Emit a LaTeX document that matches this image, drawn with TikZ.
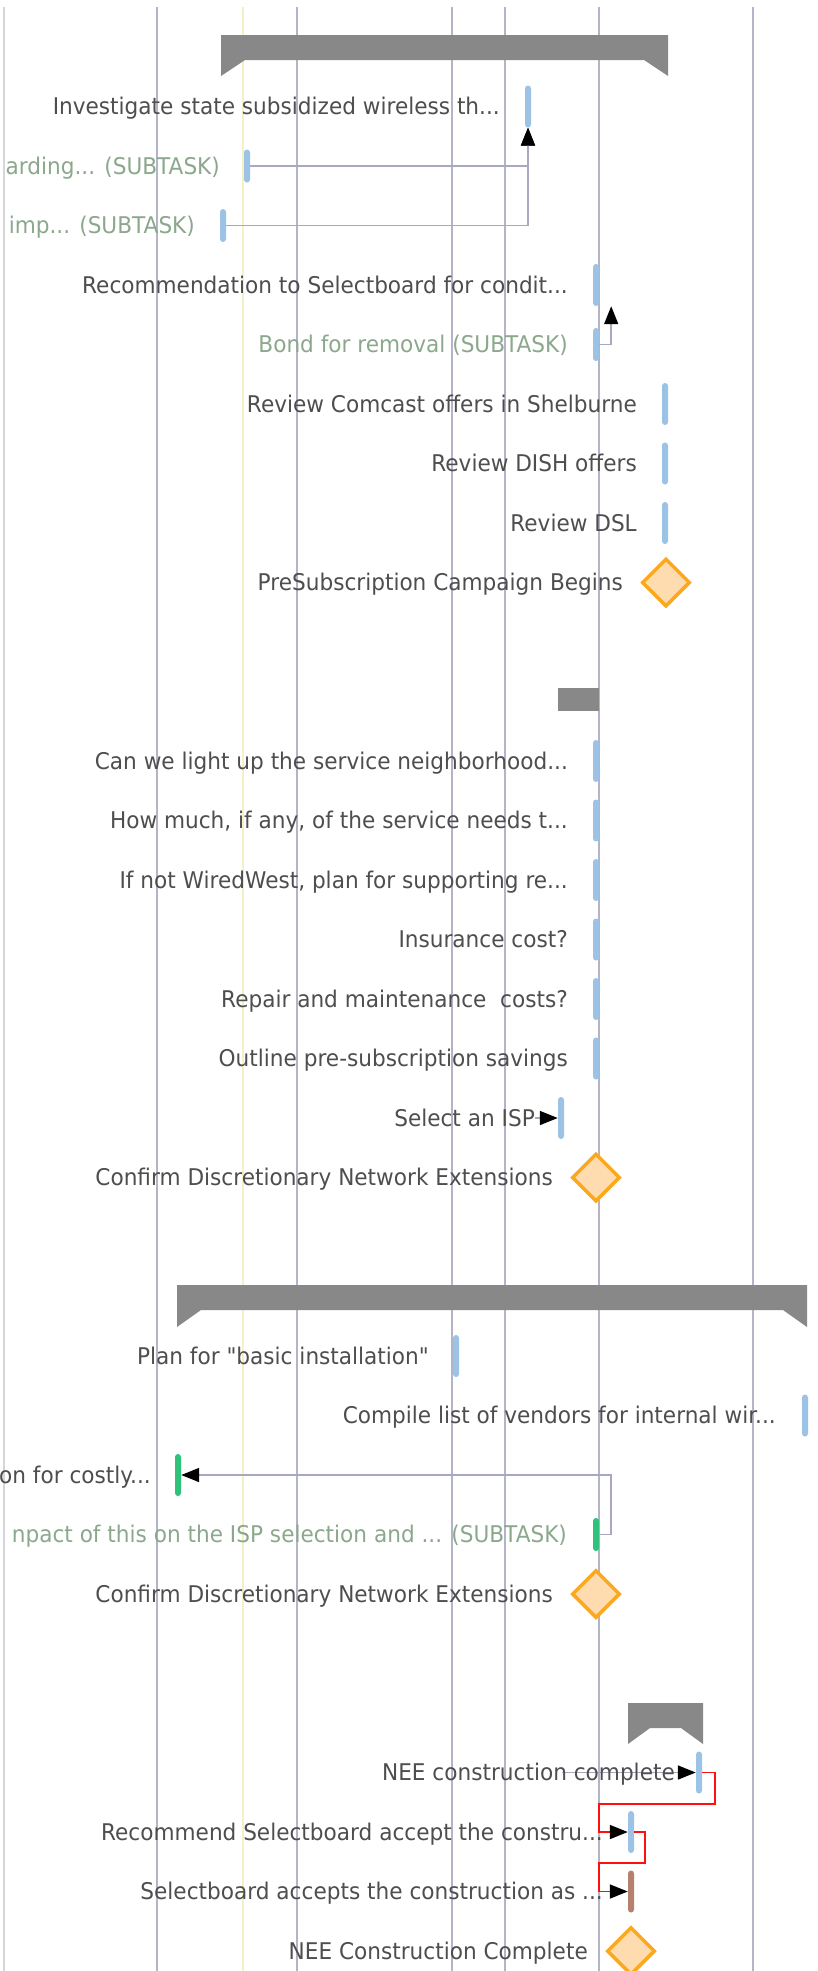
\documentclass[tikz,border=0pt]{standalone}
\usepackage{fontspec}
\setmainfont{DejaVu Sans}[FakeStretch=0.94]
\newfontfamily\qfont{DejaVu Sans}[FakeStretch=0.94]
\usetikzlibrary{shapes.geometric,arrows.meta}
\definecolor{gridc}{HTML}{B4B4C8}
\definecolor{edgec}{HTML}{D6D6D6}
\definecolor{todayc}{HTML}{F2F2C4}
\definecolor{txt}{HTML}{4E4E4E}
\definecolor{subtxt}{HTML}{8CA88C}
\definecolor{sumc}{HTML}{888888}
\definecolor{tblue}{HTML}{9CC2E5}
\definecolor{tgreen}{HTML}{2EC27A}
\definecolor{tbrown}{HTML}{B5806E}
\definecolor{morange}{HTML}{FBA81C}
\definecolor{mfill}{HTML}{FEDCB0}
\definecolor{connc}{HTML}{A8A8C0}
\definecolor{redc}{HTML}{FF1010}
\tikzset{
  gridl/.style={draw=gridc, line width=1.3pt},
  lbl/.style={font=\fontsize{23}{27}\selectfont, text=txt, inner sep=0pt, anchor=base east},
  sublbl/.style={lbl, text=subtxt},
  tbar/.style={rectangle, draw=none, minimum width=6pt, minimum height=42pt, inner sep=0pt, rounded corners=3pt},
  sbar/.style={tbar, minimum height=33pt},
  mstone/.style={diamond, draw=morange, fill=mfill, line width=3.5pt, minimum width=48pt, minimum height=48pt, inner sep=0pt},
  sumbar/.style={fill=sumc, draw=none},
  tipa/.style={-{Triangle[length=18pt,width=14pt,color=black,fill=black]}},
  dep/.style={draw=connc, line width=1.6pt},
  depa/.style={dep, tipa},
  rdep/.style={draw=redc, line width=1.6pt},
  rdepa/.style={rdep, tipa}
}
\begin{document}
\begin{tikzpicture}[x=1pt,y=-1pt]
\useasboundingbox[fill=white] (0,0) rectangle (817,1971);
% grid lines
\draw[draw=edgec, line width=2.5pt] (4,7) -- (4,1971);
\foreach \gx in {157,297,452,505,599,753} \draw[gridl] (\gx,7) -- (\gx,1971);
\draw[draw=todayc, line width=2.5pt] (243,7) -- (243,1971);

% summary bars
\fill[sumbar] (221,35) -- (668,35) -- (668,76) -- (644,60) -- (245,60) -- (221,76) -- cycle;
\fill[sumbar] (558,688) rectangle (599,711);
\fill[sumbar] (177,1285) -- (807,1285) -- (807,1327) -- (783,1310) -- (201,1310) -- (177,1327) -- cycle;
\fill[sumbar] (628,1703) -- (703,1703) -- (703,1744) -- (681,1728) -- (650,1728) -- (628,1744) -- cycle;

% group 1
\node[tbar, fill=tblue] (b1) at (528,106.5) {};
\node[lbl] (t1) at (500,114.9) {Investigate state subsidized wireless th...};
\node[sbar, fill=tblue] (b2) at (247,166) {};
\node[sublbl] (t2) at (220,174.4) {arding... (SUBTASK)};
\node[sbar, fill=tblue] (b3) at (223,225.5) {};
\node[sublbl] (t3) at (195,233.9) {imp... (SUBTASK)};
\node[tbar, fill=tblue] (b4) at (596,285) {};
\node[lbl] (t4) at (568,293.4) {Recommendation to Selectboard for condit...};
\node[sbar, fill=tblue] (b5) at (596,344.5) {};
\node[sublbl] (t5) at (568,352.9) {Bond for removal (SUBTASK)};
\node[tbar, fill=tblue] (b6) at (665,404) {};
\node[lbl] (t6) at (637,412.4) {Review Comcast offers in Shelburne};
\node[tbar, fill=tblue] (b7) at (665,463.5) {};
\node[lbl] (t7) at (637,471.9) {Review DISH offers};
\node[tbar, fill=tblue] (b8) at (665,523) {};
\node[lbl] (t8) at (637,531.4) {Review DSL};
\node[mstone] (m9) at (666,582.5) {};
\node[lbl] (t9) at (623,590.9) {PreSubscription Campaign Begins};

\draw[depa] (b3.east) -| (b1.south);
\draw[depa] (b2.east) -| (b1.south);
\draw[depa] (b5.east) -- ++(12,0) coordinate (c5) -- (c5 |- b4.south);

% group 2
\node[tbar, fill=tblue] (b10) at (596,761) {};
\node[lbl] (t10) at (568,769.4) {Can we light up the service neighborhood...};
\node[tbar, fill=tblue] (b11) at (596,820.5) {};
\node[lbl] (t11) at (568,828.9) {How much, if any, of the service needs t...};
\node[tbar, fill=tblue] (b12) at (596,880) {};
\node[lbl] (t12) at (568,888.4) {If not WiredWest, plan for supporting re...};
\node[tbar, fill=tblue] (b13) at (596,939.5) {};
\node[lbl] (t13) at (568,947.9) {Insurance cost?};
\node[tbar, fill=tblue] (b14) at (596,999) {};
\node[lbl] (t14) at (568,1007.4) {Repair and maintenance~ costs?};
\node[tbar, fill=tblue] (b15) at (596,1058.5) {};
\node[lbl] (t15) at (568,1066.9) {Outline pre-subscription savings};
\node[tbar, fill=tblue] (b16) at (561,1118) {};
\node[lbl] (t16) at (535,1126.4) {Select an ISP};
\node[mstone] (m17) at (596,1177.5) {};
\node[lbl] (t17) at (553,1185.9) {Confirm Discretionary Network Extensions};
\coordinate (a16) at (535,1118);
\draw[depa] (a16) -- (b16.west);

% group 3
\node[tbar, fill=tblue] (b18) at (456,1356) {};
\node[lbl] (t18) at (429,1364.4) {Plan for {\qfont"}basic installation{\qfont"}};
\node[tbar, fill=tblue] (b19) at (805,1415.5) {};
\node[lbl] (t19) at (776,1423.9) {Compile list of vendors for internal wir...};
\node[tbar, fill=tgreen] (b20) at (178,1475) {};
\node[lbl] (t20) at (151,1483.4) {on for costly...};
\node[sbar, fill=tgreen] (b21) at (596,1534.5) {};
\node[sublbl] (t21) at (567,1542.9) {npact of this on the ISP selection and ... (SUBTASK)};
\node[mstone] (m22) at (596,1594) {};
\node[lbl] (t22) at (553,1602.4) {Confirm Discretionary Network Extensions};
\draw[depa] (b21.east) -- ++(12,0) |- (b20.east);

% group 4
\node[tbar, fill=tblue] (b23) at (699,1772.5) {};
\coordinate (a23) at (562,1772.5);
\draw[depa] (a23) -- (b23.west);
\node[lbl] (t23) at (675,1780.9) {NEE construction complete};
\node[tbar, fill=tblue] (b24) at (631,1832) {};
\node[lbl] (t24) at (603,1840.4) {Recommend Selectboard accept the constru...};
\node[tbar, fill=tbrown] (b25) at (631,1891.5) {};
\node[lbl] (t25) at (603,1899.9) {Selectboard accepts the construction as ...};
\node[mstone] (m26) at (631,1951) {};
\node[lbl] (t26) at (588,1959.4) {NEE Construction Complete};
\coordinate (r23) at (599,1804);
\coordinate (r24) at (599,1863);
\draw[rdepa] (b23.east) -- ++(13,0) |- (r23) |- (b24.west);
\draw[rdepa] (b24.east) -- ++(11,0) |- (r24) |- (b25.west);
\end{tikzpicture}
\end{document}
